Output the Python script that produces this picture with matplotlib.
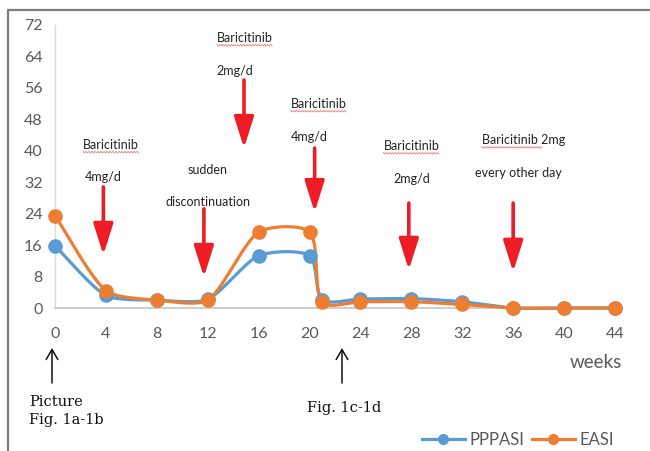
import numpy as np
import matplotlib
matplotlib.use("Agg")
import matplotlib.pyplot as plt
from matplotlib.lines import Line2D

# data
weeks = [0, 4, 8, 12, 16, 20, 21, 24, 28, 32, 36, 40, 44]
pppasi = [15.8, 3.2, 2.0, 2.2, 13.3, 13.3, 2.1, 2.3, 2.4, 1.6, 0, 0, 0]
easi = [23.5, 4.4, 2.0, 2.0, 19.3, 19.3, 1.4, 1.6, 1.6, 0.9, 0, 0, 0]
x_ticks = list(range(0, 45, 4))
y_ticks = list(range(0, 73, 8))

BLUE = '#5B9BD5'
ORANGE = '#ED7D31'
RED = '#EE1C25'
GREY = '#595959'

W, H = 650, 451
fig = plt.figure(figsize=(W / 100, H / 100), dpi=100)
ax = fig.add_axes([55 / W, 1 - 308 / H, (615 - 55) / W, 283 / H])
ax.set_xlim(0, 44)
ax.set_ylim(0, 72)

# px per data unit, used so the smoothing is done in screen space like excel
SX = (615 - 55) / 44
SY = 283 / 72


def smooth(xs, ys, k=0.22, n=40):
    P = np.column_stack([np.asarray(xs, float) * SX, np.asarray(ys, float) * SY])
    m = len(P)
    D = np.zeros_like(P)
    for i in range(m):
        d = P[min(i + 1, m - 1)] - P[max(i - 1, 0)]
        D[i] = d / np.linalg.norm(d)
    t = np.linspace(0, 1, n)[:, None]
    out = []
    for i in range(m - 1):
        L = np.linalg.norm(P[i + 1] - P[i])
        c1 = P[i] + D[i] * L * k
        c2 = P[i + 1] - D[i + 1] * L * k
        seg = (1 - t) ** 3 * P[i] + 3 * (1 - t) ** 2 * t * c1 + 3 * (1 - t) * t ** 2 * c2 + t ** 3 * P[i + 1]
        out.append(seg if i == 0 else seg[1:])
    out = np.vstack(out)
    return out[:, 0] / SX, out[:, 1] / SY


for vals, col in [(pppasi, BLUE), (easi, ORANGE)]:
    sx, sy = smooth(weeks, vals)
    ax.plot(sx, sy, color=col, lw=2.3, clip_on=False, zorder=3, solid_capstyle='round')
    ax.plot(weeks, vals, 'o', color=col, ms=9.5, clip_on=False, zorder=4)

# axes styling
for s in ['top', 'right']:
    ax.spines[s].set_visible(False)
ax.spines['left'].set_color('#d9d9d9')
ax.spines['left'].set_linewidth(1.0)
ax.spines['bottom'].set_color('#c8c8c8')
ax.spines['bottom'].set_linewidth(1.3)
ax.set_xticks(x_ticks)
ax.set_yticks(y_ticks)
ax.tick_params(length=0, colors=GREY, labelsize=11.5)
ax.tick_params(axis='x', pad=14)
ax.tick_params(axis='y', pad=9)
for lab in ax.get_xticklabels() + ax.get_yticklabels():
    lab.set_family('Lato')

# red dosing arrows (x, top, tip)
arrows = [(3.8, 30.8, 13.5), (11.7, 25.2, 7.9), (14.85, 58, 40.7),
          (20.4, 40.7, 24.4), (27.8, 26.7, 9.7), (36.0, 26.7, 9.2)]
for x, top, tip in arrows:
    ax.annotate('', xy=(x, tip), xytext=(x, top), annotation_clip=False,
                arrowprops=dict(arrowstyle='-|>,head_length=0.95,head_width=0.3',
                                mutation_scale=20, color=RED, lw=2.6,
                                shrinkA=0, shrinkB=0))

notes = [('Baricitinib', 4.4, 41.5, 1.0), ('4mg/d', 3.8, 33.3, 0),
         ('sudden', 12.0, 35.1, 0), ('discontinuation', 12.0, 27.0, 0),
         ('Baricitinib', 14.9, 68.7, 1.0), ('2mg/d', 14.1, 60.3, 0),
         ('Baricitinib', 20.7, 51.9, 1.0), ('4mg/d', 20.0, 43.5, 0),
         ('Baricitinib', 28.0, 41.2, 1.0), ('2mg/d', 28.0, 32.8, 0),
         ('Baricitinib 2mg', 36.8, 42.7, 0.73), ('every other day', 36.4, 34.4, 0)]
squiggle = []
for txt, x, y, frac in notes:
    t = ax.text(x, y, txt, ha='center', va='center', fontsize=9, family='Lato',
                color='#222222', clip_on=False)
    if frac:
        squiggle.append((t, frac))

fig.text(596 / W, 1 - 362 / H, 'weeks', ha='center', va='center', fontsize=13.5,
         family='Lato', color=GREY)

# notes under the axis
serif = dict(family='DejaVu Serif', fontsize=10.5, color='#111111', va='center', ha='left')
fig.text(29 / W, 1 - 402 / H, 'Picture', **serif)
fig.text(29 / W, 1 - 420 / H, 'Fig. 1a-1b', **serif)
fig.text(307 / W, 1 - 408 / H, 'Fig. 1c-1d', **serif)
for px in [52, 342]:
    ax.annotate('', xy=(px, H - 348), xytext=(px, H - 383), xycoords='figure pixels',
                textcoords='figure pixels', annotation_clip=False,
                arrowprops=dict(arrowstyle='->,head_length=0.6,head_width=0.35',
                                mutation_scale=12, color='#111111', lw=1.1,
                                shrinkA=0, shrinkB=0))

# legend
handles = [Line2D([], [], color=BLUE, lw=2.3, marker='o', ms=7),
           Line2D([], [], color=ORANGE, lw=2.3, marker='o', ms=7)]
fig.legend(handles, ['PPPASI', 'EASI'], loc='center', bbox_to_anchor=(518 / W, 1 - 440 / H),
           ncol=2, frameon=False, handlelength=2.6, handletextpad=0.3, columnspacing=0.4,
           prop={'family': 'Lato', 'size': 12}, labelcolor=GREY)

# outer frame (left and top edge)
fig.add_artist(Line2D([8 / W, 8 / W, 1], [0, 1 - 10 / H, 1 - 10 / H],
                      transform=fig.transFigure, color='#7f7f7f', lw=1.6))

# spell-check squiggles under "Baricitinib"
fig.canvas.draw()
for t, frac in squiggle:
    bb = t.get_window_extent()
    xs = np.arange(bb.x0, bb.x0 + bb.width * frac, 1.5)
    ys = bb.y0 + np.where(np.arange(len(xs)) % 2 == 0, -0.5, -2.0)
    fig.add_artist(Line2D(xs / W, ys / H, transform=fig.transFigure,
                          color='#e05a5a', lw=0.6, alpha=0.8))

fig.savefig('out.png', dpi=100)
